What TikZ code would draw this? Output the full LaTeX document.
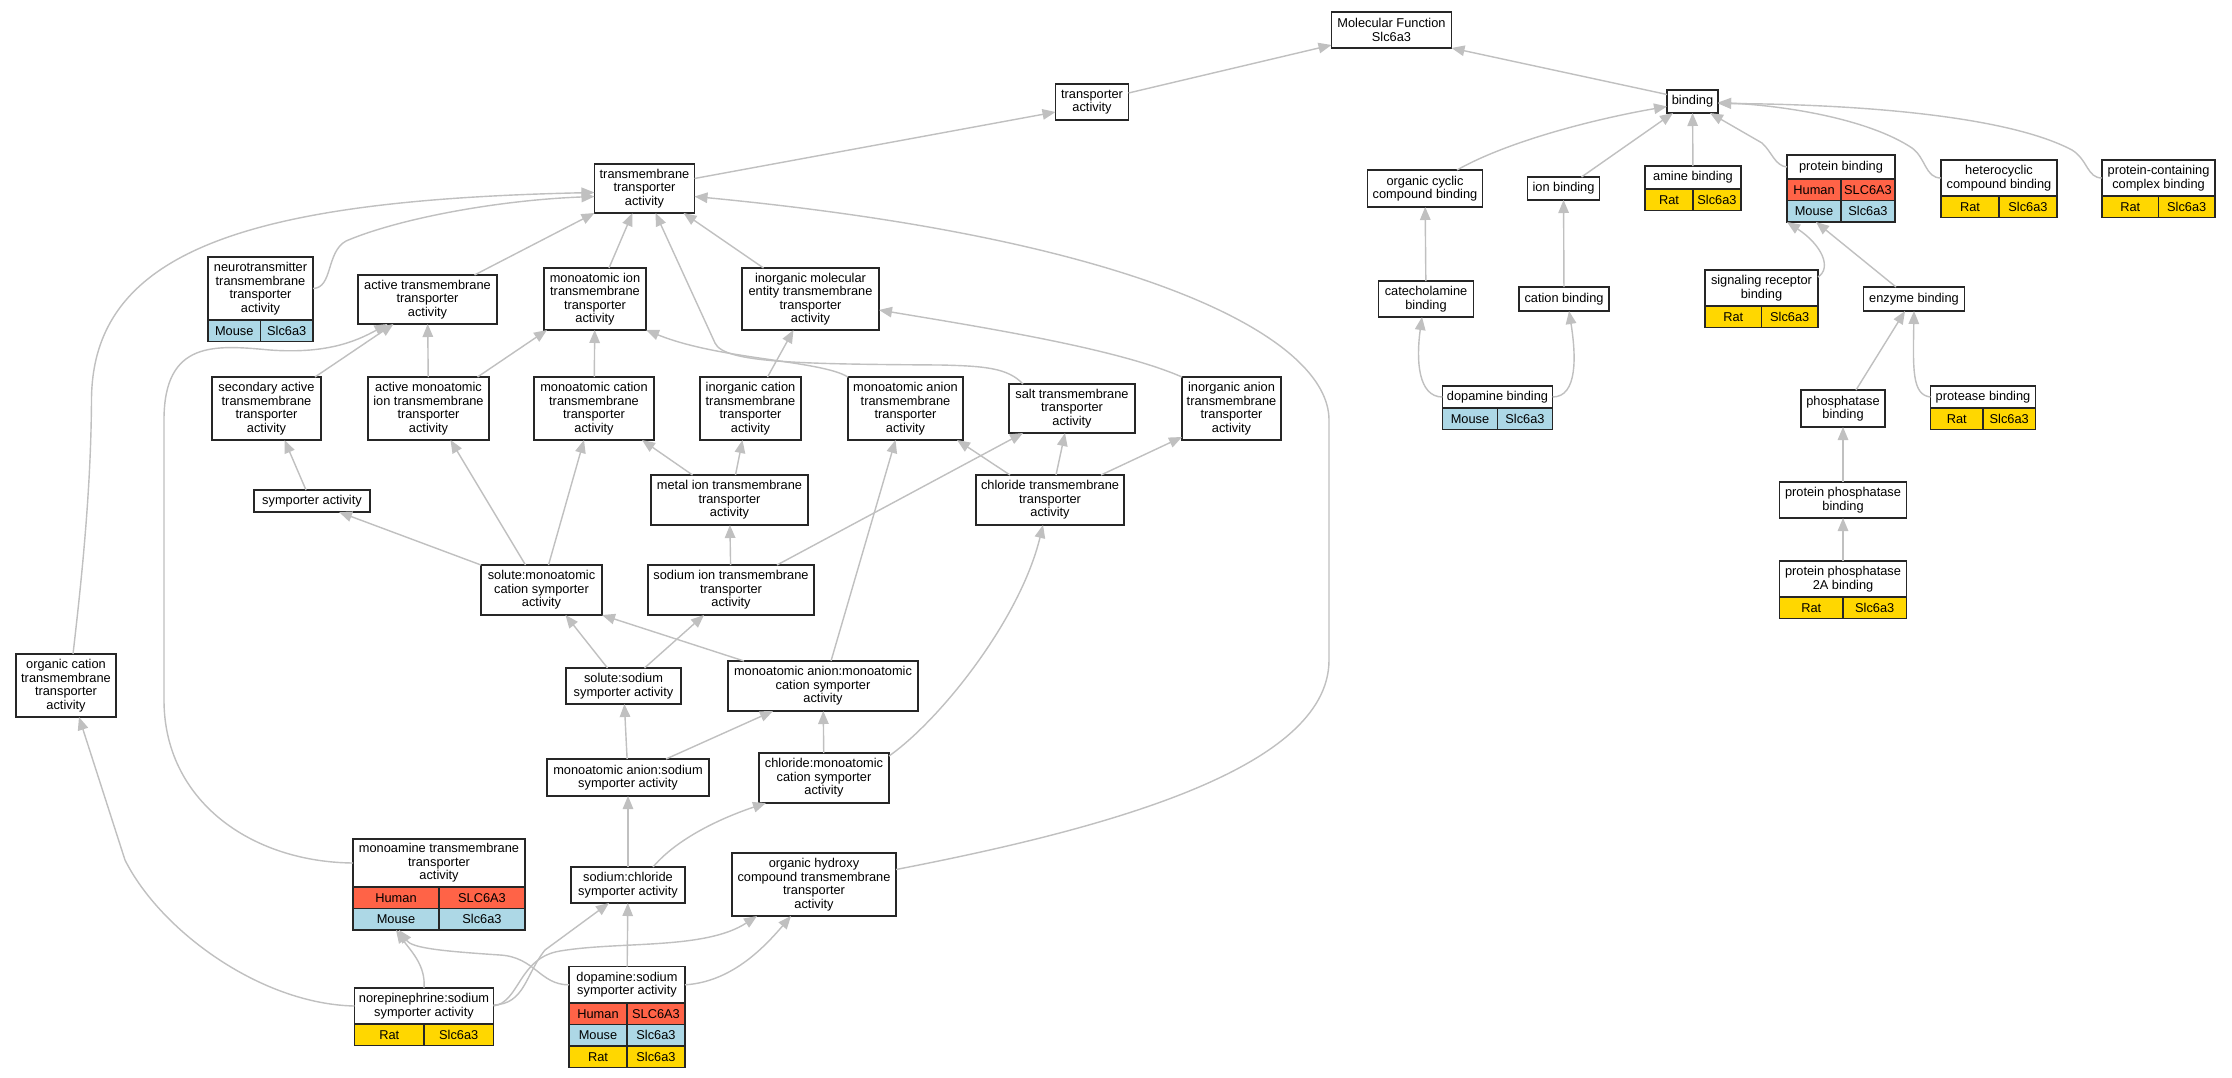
\documentclass[tikz,border=0pt]{standalone}
\usepackage{fontspec}
\setmainfont{Liberation Sans}
\usetikzlibrary{arrows.meta}
\definecolor{human}{RGB}{255,99,71}
\definecolor{mouse}{RGB}{173,216,230}
\definecolor{rat}{RGB}{255,215,0}
\definecolor{edgegray}{RGB}{192,192,192}
\begin{document}
\begin{tikzpicture}[x=1pt,y=-1pt,>={Triangle[length=13pt,width=10.5pt]},
    term/.style={draw=black!85,line width=1.7pt,fill=white,align=center,inner sep=0pt,outer sep=0pt,font=\fontsize{12.8pt}{13.5pt}\selectfont},
    cell/.style={draw=black!85,line width=1.3pt,inner sep=0pt,outer sep=0pt,minimum height=21.5pt,font=\fontsize{12.8pt}{13.5pt}\selectfont},
    isa/.style={->,draw=edgegray,line width=1.4pt}]

    \useasboundingbox(0,0)rectangle(2232,1077);
    \fill[white](0,0)rectangle(2232,1077);

    \node[term,minimum width=120pt,minimum height=36pt](mf)at(1391.5,30){Molecular Function\\Slc6a3};
    \node[term,minimum width=73pt,minimum height=36pt](ta)at(1092,102){transporter\\activity};
    \node[term,minimum width=51pt,minimum height=23pt](bind)at(1692.5,101.5){binding};
    \node[term,minimum width=100pt,minimum height=49pt](tta)at(644.5,188.5){transmembrane\\transporter\\activity};
    \node[term,minimum width=115pt,minimum height=37pt](occb)at(1425,188.5){organic cyclic\\compound binding};
    \node[term,minimum width=72pt,minimum height=23pt](ionb)at(1563.5,188.5){ion binding};

    \node[term,minimum width=96pt,minimum height=23pt](amb)at(1693,177.5){amine binding};
    \node[cell,fill=rat,minimum width=48pt,anchor=north west](amb-r)at(amb.south west){Rat};
    \node[cell,fill=rat,minimum width=48pt,anchor=north east](amb-rg)at(amb.south east){Slc6a3};

    \node[term,minimum width=108pt,minimum height=24pt](protb)at(1841,167){protein binding};
    \node[cell,fill=human,minimum width=54pt,anchor=north west](protb-h)at(protb.south west){Human};
    \node[cell,fill=human,minimum width=54pt,anchor=north east](protb-hg)at(protb.south east){SLC6A3};
    \node[cell,fill=mouse,minimum width=54pt,anchor=north west](protb-m)at(protb-h.south west){Mouse};
    \node[cell,fill=mouse,minimum width=54pt,anchor=north east](protb-mg)at(protb-hg.south east){Slc6a3};

    \node[term,minimum width=116pt,minimum height=36pt](hetb)at(1999,178){heterocyclic\\compound binding};
    \node[cell,fill=rat,minimum width=58pt,anchor=north west](hetb-r)at(hetb.south west){Rat};
    \node[cell,fill=rat,minimum width=58pt,anchor=north east](hetb-rg)at(hetb.south east){Slc6a3};

    \node[term,minimum width=113pt,minimum height=36pt](pccb)at(2158.5,178){protein-containing\\complex binding};
    \node[cell,fill=rat,minimum width=56.5pt,anchor=north west](pccb-r)at(pccb.south west){Rat};
    \node[cell,fill=rat,minimum width=56.5pt,anchor=north east](pccb-rg)at(pccb.south east){Slc6a3};

    \node[term,minimum width=105pt,minimum height=63pt](ntta)at(260.5,288.5){neurotransmitter\\transmembrane\\transporter\\activity};
    \node[cell,fill=mouse,minimum width=52.5pt,anchor=north west](ntta-m)at(ntta.south west){Mouse};
    \node[cell,fill=mouse,minimum width=52.5pt,anchor=north east](ntta-mg)at(ntta.south east){Slc6a3};

    \node[term,minimum width=139pt,minimum height=49pt](atta)at(427.5,299.5){active transmembrane\\transporter\\activity};
    \node[term,minimum width=102pt,minimum height=62pt](mitta)at(595,299){monoatomic ion\\transmembrane\\transporter\\activity};
    \node[term,minimum width=137pt,minimum height=62pt](imetta)at(810.5,299){inorganic molecular\\entity transmembrane\\transporter\\activity};
    \node[term,minimum width=95pt,minimum height=36pt](catb)at(1426,299){catecholamine\\binding};
    \node[term,minimum width=90pt,minimum height=24pt](catnb)at(1564,299){cation binding};

    \node[term,minimum width=113pt,minimum height=36pt](sigb)at(1761.5,288){signaling receptor\\binding};
    \node[cell,fill=rat,minimum width=56.5pt,anchor=north west](sigb-r)at(sigb.south west){Rat};
    \node[cell,fill=rat,minimum width=56.5pt,anchor=north east](sigb-rg)at(sigb.south east){Slc6a3};

    \node[term,minimum width=101pt,minimum height=24pt](enzb)at(1914,299){enzyme binding};
    \node[term,minimum width=109pt,minimum height=63pt](satta)at(266.5,408.5){secondary active\\transmembrane\\transporter\\activity};
    \node[term,minimum width=121pt,minimum height=63pt](amitta)at(428.5,408.5){active monoatomic\\ion transmembrane\\transporter\\activity};
    \node[term,minimum width=120pt,minimum height=63pt](mctta)at(594,408.5){monoatomic cation\\transmembrane\\transporter\\activity};
    \node[term,minimum width=101pt,minimum height=63pt](ictta)at(750.5,408.5){inorganic cation\\transmembrane\\transporter\\activity};
    \node[term,minimum width=115pt,minimum height=63pt](matta)at(905.5,408.5){monoatomic anion\\transmembrane\\transporter\\activity};
    \node[term,minimum width=126pt,minimum height=49pt](stta)at(1072,408.5){salt transmembrane\\transporter\\activity};
    \node[term,minimum width=99pt,minimum height=63pt](iatta)at(1231.5,408.5){inorganic anion\\transmembrane\\transporter\\activity};

    \node[term,minimum width=110pt,minimum height=22pt](dopb)at(1497.5,397){dopamine binding};
    \node[cell,fill=mouse,minimum width=55pt,anchor=north west](dopb-m)at(dopb.south west){Mouse};
    \node[cell,fill=mouse,minimum width=55pt,anchor=north east](dopb-mg)at(dopb.south east){Slc6a3};

    \node[term,minimum width=105pt,minimum height=22pt](prob)at(1983,397){protease binding};
    \node[cell,fill=rat,minimum width=52.5pt,anchor=north west](prob-r)at(prob.south west){Rat};
    \node[cell,fill=rat,minimum width=52.5pt,anchor=north east](prob-rg)at(prob.south east){Slc6a3};

    \node[term,minimum width=84pt,minimum height=37pt](phob)at(1843,408.5){phosphatase\\binding};
    \node[term,minimum width=116pt,minimum height=22pt](sym)at(312,501){symporter activity};
    \node[term,minimum width=157pt,minimum height=50pt](metta)at(729.5,500){metal ion transmembrane\\transporter\\activity};
    \node[term,minimum width=148pt,minimum height=50pt](cltta)at(1050,500){chloride transmembrane\\transporter\\activity};
    \node[term,minimum width=127pt,minimum height=36pt](ppb)at(1843,500){protein phosphatase\\binding};
    \node[term,minimum width=121pt,minimum height=50pt](smcs)at(541.5,590){solute:monoatomic\\cation symporter\\activity};
    \node[term,minimum width=166pt,minimum height=50pt](sitta)at(731,590){sodium ion transmembrane\\transporter\\activity};

    \node[term,minimum width=127pt,minimum height=36pt](pp2ab)at(1843,579){protein phosphatase\\2A binding};
    \node[cell,fill=rat,minimum width=63.5pt,anchor=north west](pp2ab-r)at(pp2ab.south west){Rat};
    \node[cell,fill=rat,minimum width=63.5pt,anchor=north east](pp2ab-rg)at(pp2ab.south east){Slc6a3};

    \node[term,minimum width=100pt,minimum height=63pt](octta)at(66,685.5){organic cation\\transmembrane\\transporter\\activity};
    \node[term,minimum width=115pt,minimum height=36pt](sss)at(623.5,686){solute:sodium\\symporter activity};
    \node[term,minimum width=190pt,minimum height=50pt](mamcs)at(823,686){monoatomic anion:monoatomic\\cation symporter\\activity};
    \node[term,minimum width=162pt,minimum height=37pt](mass)at(628,777.5){monoatomic anion:sodium\\symporter activity};
    \node[term,minimum width=130pt,minimum height=50pt](clmcs)at(824,778){chloride:monoatomic\\cation symporter\\activity};

    \node[term,minimum width=172pt,minimum height=48pt](mtta)at(439,863){monoamine transmembrane\\transporter\\activity};
    \node[cell,fill=human,minimum width=86pt,anchor=north west](mtta-h)at(mtta.south west){Human};
    \node[cell,fill=human,minimum width=86pt,anchor=north east](mtta-hg)at(mtta.south east){SLC6A3};
    \node[cell,fill=mouse,minimum width=86pt,anchor=north west](mtta-m)at(mtta-h.south west){Mouse};
    \node[cell,fill=mouse,minimum width=86pt,anchor=north east](mtta-mg)at(mtta-hg.south east){Slc6a3};

    \node[term,minimum width=114pt,minimum height=36pt](scs)at(628,885){sodium:chloride\\symporter activity};
    \node[term,minimum width=164pt,minimum height=63pt](ohtta)at(814,884.5){organic hydroxy\\compound transmembrane\\transporter\\activity};

    \node[term,minimum width=139pt,minimum height=36pt](nss)at(424,1006){norepinephrine:sodium\\symporter activity};
    \node[cell,fill=rat,minimum width=69.5pt,anchor=north west](nss-r)at(nss.south west){Rat};
    \node[cell,fill=rat,minimum width=69.5pt,anchor=north east](nss-rg)at(nss.south east){Slc6a3};

    \node[term,minimum width=116pt,minimum height=36.6pt](dss)at(627,984.8){dopamine:sodium\\symporter activity};
    \node[cell,fill=human,minimum width=58pt,anchor=north west](dss-h)at(dss.south west){Human};
    \node[cell,fill=human,minimum width=58pt,anchor=north east](dss-hg)at(dss.south east){SLC6A3};
    \node[cell,fill=mouse,minimum width=58pt,anchor=north west](dss-m)at(dss-h.south west){Mouse};
    \node[cell,fill=mouse,minimum width=58pt,anchor=north east](dss-mg)at(dss-hg.south east){Slc6a3};
    \node[cell,fill=rat,minimum width=58pt,anchor=north west](dss-r)at(dss-m.south west){Rat};
    \node[cell,fill=rat,minimum width=58pt,anchor=north east](dss-rg)at(dss-mg.south east){Slc6a3};

    \draw[isa]([yshift=9pt]ta.east)--([yshift=3pt]mf.south west);
    \draw[isa]([yshift=7pt]bind.west)--(mf.south east);
    \draw[isa]([yshift=10pt]tta.east)--([yshift=-10pt]ta.west);
    \draw[isa](ntta.east)..controls(333,288)and(326,252)..(346,241)..controls(400,218)and(500,200)..([yshift=-8pt]tta.west);
    \draw[isa]([xshift=7pt]octta.north)..controls(84,560)and(91,480)..(91.5,400)..controls(92,250)and(250,200)..([yshift=-4pt]tta.west);
    \draw[isa](mtta.west)..controls(250,862)and(164,800)..(164,700)--(164,420)..controls(164,340)and(215,345)..(270,350)..controls(325,354)and(355,342)..([xshift=-40pt]atta.south);
    \draw[isa]([xshift=47pt]atta.north)--(tta.south west);
    \draw[isa]([xshift=14pt]mitta.north)--([xshift=-12pt]tta.south);
    \draw[isa]([xshift=-49pt]stta.north)..controls(1008,368)and(985,366)..(940,365)..controls(800,364)and(724,363)..(715,343)--([xshift=11pt]tta.south);
    \draw[isa]([xshift=-47pt]imetta.north)--([xshift=39pt]tta.south);
    \draw[isa]([yshift=15pt]ohtta.east)..controls(1100,830)and(1329,770)..(1329,660)--(1329,420)..controls(1329,340)and(1150,240)..([yshift=-8pt]tta.east);

    \draw[isa]([xshift=49pt]amitta.north)--([xshift=-48pt]mitta.south);
    \draw[isa](mctta)--(mitta);
    \draw[isa](matta.north west)..controls(820,360)and(720,360)..(mitta.south east);
    \draw[isa]([xshift=-6pt]satta.north east)--([xshift=-34pt]atta.south);
    \draw[isa](amitta)--(atta);
    \draw[isa]([xshift=17pt]ictta.north)--([xshift=-17pt]imetta.south);
    \draw[isa](iatta.north west)..controls(1120,350)and(1000,330)..([yshift=-11pt]imetta.east);

    \draw[isa](catb)--(occb);
    \draw[isa](catnb)--(ionb);
    \draw[isa]([xshift=32pt]occb.north)..controls(1510,140)and(1600,118)..([yshift=-5pt]bind.west);
    \draw[isa]([xshift=18pt]ionb.north)--([xshift=6pt]bind.south west);
    \draw[isa](amb)--(bind);
    \draw[isa](protb.west)..controls(1775,166)and(1772,152)..(1762,143)--([xshift=-8pt]bind.south east);
    \draw[isa](hetb.west)..controls(1925,178)and(1926,158)..(1912,148)..controls(1870,120)and(1790,106)..([yshift=-1pt]bind.east);
    \draw[isa](pccb.west)..controls(2087,178)and(2088,160)..(2072,150)..controls(2000,112)and(1830,104)..([yshift=-2pt]bind.east);
    \draw[isa](dopb.west)..controls(1418,397)and(1416,360)..([xshift=-4pt]catb.south);
    \draw[isa](dopb.east)..controls(1578,397)and(1576,355)..([xshift=5pt]catnb.south);
    \draw[isa]([yshift=-7pt]sigb.north east)..controls(1832,268)and(1822,245)..(protb-m.south west);
    \draw[isa]([xshift=-18pt]enzb.north)--([xshift=2pt]protb-m.south);
    \draw[isa]([xshift=13pt]phob.north)--([xshift=-9pt]enzb.south);
    \draw[isa](prob.west)..controls(1912,395)and(1913,370)..(enzb.south);
    \draw[isa](ppb)--(phob);
    \draw[isa](pp2ab)--(ppb);

    \draw[isa]([xshift=-6pt]sym.north)--([xshift=18pt]satta.south);
    \draw[isa]([xshift=-16pt]smcs.north)--([xshift=22pt]amitta.south);
    \draw[isa]([xshift=7pt]smcs.north)--([xshift=-10pt]mctta.south);
    \draw[isa]([xshift=-37pt]metta.north)--([xshift=48pt]mctta.south);
    \draw[isa]([xshift=6pt]metta.north)--([xshift=-8pt]ictta.south);
    \draw[isa]([xshift=8pt]mamcs.north)--([xshift=-10pt]matta.south);
    \draw[isa]([xshift=-40pt]cltta.north)--([xshift=-6pt]matta.south east);
    \draw[isa]([xshift=6pt]cltta.north)--([xshift=-7pt]stta.south);
    \draw[isa]([xshift=46pt]sitta.north)--([xshift=-49pt]stta.south);
    \draw[isa]([xshift=51pt]cltta.north)--([yshift=3pt]iatta.south west);
    \draw[isa](smcs.north west)--([xshift=27pt]sym.south);
    \draw[isa](sitta)--(metta);
    \draw[isa]([xshift=-16pt]sss.north)--([xshift=24pt]smcs.south);
    \draw[isa]([xshift=16pt]mamcs.north west)--(smcs.south east);
    \draw[isa]([xshift=21pt]sss.north)--([xshift=-27pt]sitta.south);
    \draw[isa](mass)--(sss);
    \draw[isa]([xshift=38pt]mass.north)--([xshift=-50pt]mamcs.south);
    \draw[isa](clmcs)--(mamcs);
    \draw[isa]([yshift=-3pt]clmcs.north east)..controls(940,720)and(1020,620)..([xshift=-7pt]cltta.south);
    \draw[isa](scs)--(mass);
    \draw[isa]([xshift=25pt]scs.north)..controls(680,835)and(730,815)..([xshift=7pt]clmcs.south west);
    \draw[isa](dss)--(scs);
    \draw[isa]([yshift=1pt]nss.east)..controls(525,1004)and(525,975)..(545,950)--([xshift=-19pt]scs.south);
    \draw[isa](nss.east)..controls(520,1002)and(518,958)..(560,951)..controls(620,941)and(705,950)..([xshift=-57pt]ohtta.south);
    \draw[isa](dss.east)..controls(730,982)and(762,950)..([xshift=-23pt]ohtta.south);
    \draw[isa](nss.north)..controls(426,965)and(410,950)..(mtta-m.south);
    \draw[isa](dss.west)..controls(540,985)and(535,957)..(500,955)..controls(440,951)and(412,948)..([xshift=3pt]mtta-m.south);
    \draw[isa](nss.west)..controls(260,1004)and(160,930)..(125,860)--([xshift=13pt]octta.south);

\end{tikzpicture}
\end{document}
